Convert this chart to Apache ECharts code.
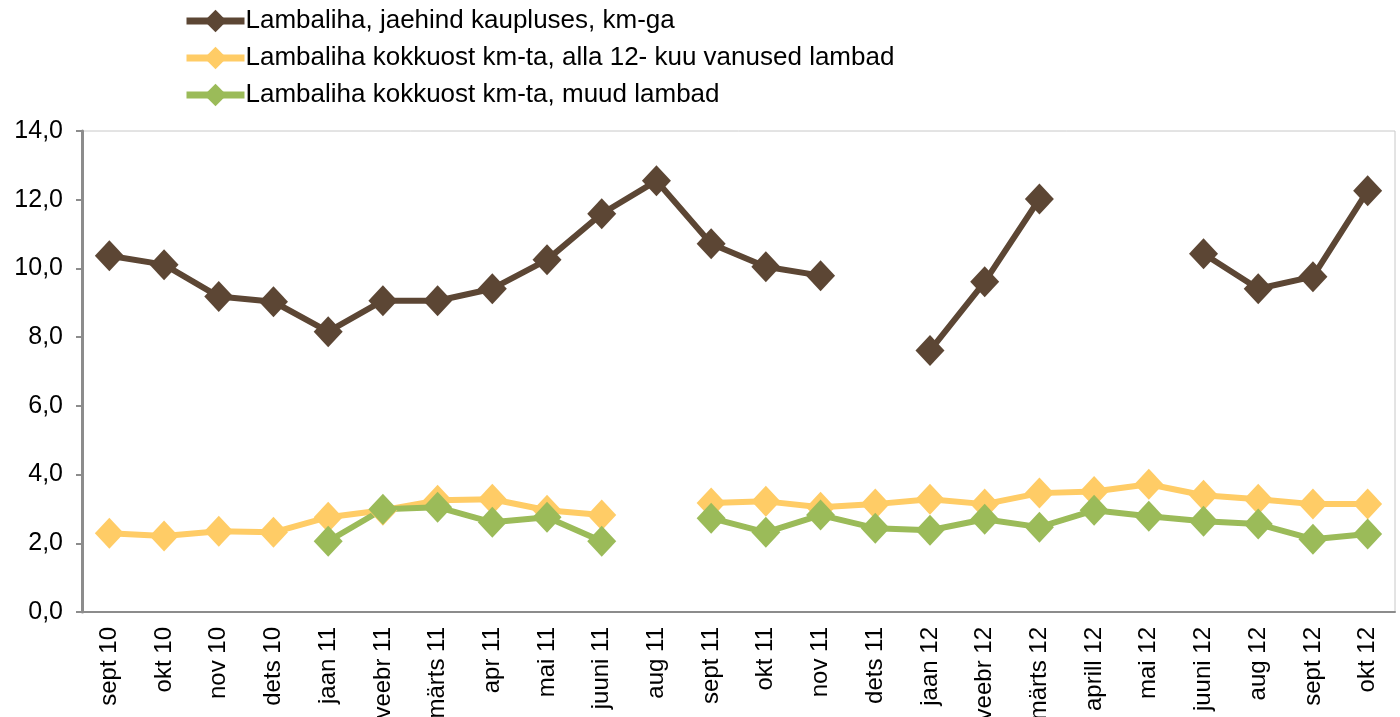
<!DOCTYPE html>
<html>
<head>
<meta charset="utf-8">
<style>
  html, body { margin: 0; padding: 0; background: #fff; }
  #chart { width: 1400px; height: 717px; }
</style>
<script src="https://cdn.jsdelivr.net/npm/echarts@6/dist/echarts.min.js"></script>
</head>
<body>
<div id="chart"></div>
<script>
const months = ["sept 10", "okt 10", "nov 10", "dets 10", "jaan 11", "veebr 11", "märts 11", "apr 11", "mai 11", "juuni 11", "aug 11",
  "sept 11", "okt 11", "nov 11", "dets 11", "jaan 12", "veebr 12", "märts 12", "aprill 12", "mai 12", "juuni 12", "aug 12", "sept 12", "okt 12"];

const names = [
  "Lambaliha, jaehind kaupluses, km-ga",
  "Lambaliha kokkuost km-ta, alla 12- kuu vanused lambad",
  "Lambaliha kokkuost km-ta, muud lambad"
];

// jaehind
const retail = [10.37, 10.11, 9.18, 9.03, 8.16, 9.06, 9.06, 9.41, 10.25, 11.59, 12.55,
  10.72, 10.05, 9.79, null, 7.61, 9.61, 12.02, null, null, 10.43, 9.41, 9.76, 12.26];
// alla 12 kuu
const young = [2.29, 2.21, 2.35, 2.32, 2.76, 2.96, 3.25, 3.28, 2.96, 2.82, null,
  3.17, 3.22, 3.05, 3.14, 3.28, 3.14, 3.46, 3.51, 3.72, 3.40, 3.28, 3.14, 3.14];
// muud lambad
const other = [null, null, null, null, 2.06, 2.99, 3.05, 2.61, 2.76, 2.06, null,
  2.73, 2.32, 2.82, 2.44, 2.38, 2.70, 2.47, 2.96, 2.79, 2.64, 2.56, 2.12, 2.27];

const colors = ["#5C4634", "#FFCC66", "#9BBB59"];
const font = "'Liberation Sans', Arial, sans-serif";

function mkSeries(name, data, color) {
  return {
    name: name,
    type: "line",
    data: data,
    symbol: "diamond",
    symbolSize: [29, 31],
    connectNulls: false,
    lineStyle: { width: 6, color: color },
    itemStyle: { color: color },
    emphasis: { disabled: true },
    animation: false
  };
}

const chart = echarts.init(document.getElementById("chart"));
chart.setOption({
  animation: false,
  color: colors,
  legend: {
    orient: "vertical",
    left: 178,
    top: 3,
    itemGap: 11,
    itemWidth: 58,
    itemHeight: 28,
    selectedMode: false,
    lineStyle: { width: 7 },
    textStyle: { fontSize: 26, color: "#000", fontFamily: font, padding: [0, 0, 0, -4] },
    data: names
  },
  grid: {
    left: 82,
    right: 5,
    top: 131,
    bottom: 105,
    containLabel: false,
    outerBoundsMode: "none",
    show: true,
    borderColor: "#c8c8c8",
    borderWidth: 1
  },
  xAxis: {
    type: "category",
    data: months,
    boundaryGap: true,
    axisLine: { lineStyle: { color: "#8c8c8c", width: 2 } },
    axisTick: { show: false },
    axisLabel: {
      rotate: 90,
      interval: 0,
      fontSize: 24,
      color: "#000",
      fontFamily: font,
      margin: 15
    }
  },
  yAxis: {
    type: "value",
    min: 0,
    max: 14,
    interval: 2,
    axisLine: { show: true, lineStyle: { color: "#8c8c8c", width: 3 } },
    axisTick: { show: true, length: 6, lineStyle: { color: "#8c8c8c", width: 2 } },
    splitLine: { show: false },
    axisLabel: {
      fontSize: 25,
      color: "#000",
      fontFamily: font,
      margin: 19,
      formatter: v => v.toFixed(1).replace(".", ",")
    }
  },
  series: [
    mkSeries(names[0], retail, colors[0]),
    mkSeries(names[1], young, colors[1]),
    mkSeries(names[2], other, colors[2])
  ]
});
</script>
</body>
</html>
